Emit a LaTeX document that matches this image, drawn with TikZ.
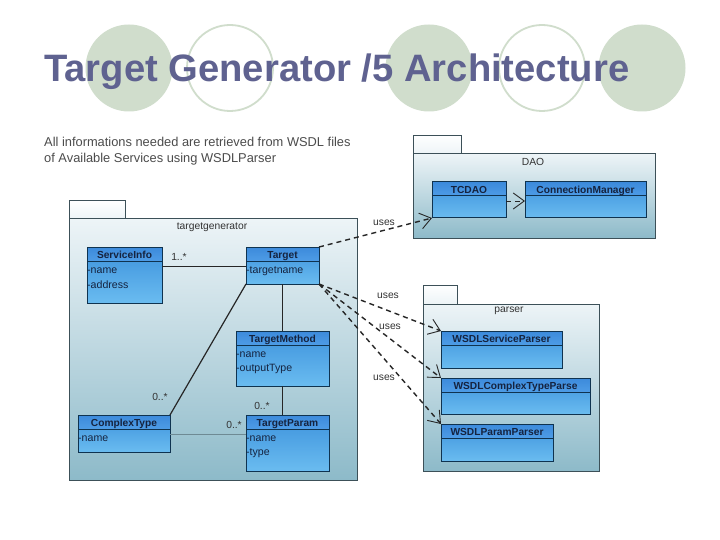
\documentclass[tikz,border=0pt]{standalone}
\usepackage{fontspec}
\setmainfont{Liberation Sans}
\usetikzlibrary{arrows.meta}
\definecolor{titlecol}{HTML}{5F6290}
\definecolor{ovalcol}{HTML}{D0DDCC}
\definecolor{inkcol}{HTML}{15233F}
\definecolor{bordercol}{HTML}{0F3350}
\definecolor{pkgborder}{HTML}{3C5058}
\definecolor{faintcol}{HTML}{6E8A94}
\tikzset{
  x=1pt,y=-1pt,
  pkgbody/.style={draw=pkgborder,line width=1pt,top color=pkgtop,bottom color=pkgbot,inner sep=0pt,outer sep=0pt,anchor=north west},
  pkgtab/.style={draw=pkgborder,line width=1pt,top color=white!95!pkgtop,bottom color=pkgtop,inner sep=0pt,outer sep=0pt,anchor=north west},
  clsbody/.style={draw=bordercol,line width=1pt,top color=clstop,bottom color=clsbot,inner sep=0pt,outer sep=0pt,anchor=north west},
  clshead/.style={draw=bordercol,line width=1pt,top color=headtop,bottom color=headbot,inner sep=0pt,outer sep=0pt,anchor=north west,text=inkcol,text height=9pt,text depth=0pt,font=\fontsize{10.2}{12}\selectfont\bfseries},
  attr/.style={anchor=west,inner sep=0pt,text=inkcol,font=\fontsize{10.6}{12}\selectfont},
  lbl/.style={inner sep=0pt,text=black!80,font=\fontsize{10.3}{12}\selectfont},
  assoc/.style={draw=black!85,line width=0.9pt},
  faint/.style={draw=faintcol,line width=0.7pt},
  dep/.style={draw=black!85,line width=1.4pt,dash pattern=on 5pt off 4pt,-{Straight Barb[length=11pt,width=16pt,line width=0.9pt]}},
}
\definecolor{pkgtop}{HTML}{EDF4F7}
\definecolor{pkgbot}{HTML}{8DBAC9}
\definecolor{clstop}{HTML}{3D92DC}
\definecolor{clsbot}{HTML}{6ABCF0}
\definecolor{headtop}{HTML}{3C8ADB}
\definecolor{headbot}{HTML}{4E9CE6}
\newcommand{\umlclass}[7]{%
  \pgfmathsetmacro{\cw}{#4-#2}\pgfmathsetmacro{\ch}{#5-#3}\pgfmathsetmacro{\hh}{#6-#3}%
  \node[clsbody,minimum width=\cw pt,minimum height=\ch pt] (#1) at (#2,#3) {};
  \node[clshead,minimum width=\cw pt,minimum height=\hh pt] (#1-h) at (#2,#3) {#7};
}
\newcommand{\umlpkg}[7]{%
  \pgfmathsetmacro{\cw}{#4-#2}\pgfmathsetmacro{\ch}{#5-#3}%
  \pgfmathsetmacro{\tw}{#6-#2}\pgfmathsetmacro{\tabh}{#3-#7}%
  \node[pkgtab,minimum width=\tw pt,minimum height=\tabh pt] (#1-tab) at (#2,#7) {};
  \node[pkgbody,minimum width=\cw pt,minimum height=\ch pt] (#1) at (#2,#3) {};
}
\begin{document}
\begin{tikzpicture}
\useasboundingbox (0,0) rectangle (720,540);
\fill[white] (0,0) rectangle (720,540);
% ovals
\fill[ovalcol] (129,68) circle [radius=43.5];
\draw[ovalcol,line width=1.8pt] (230,68) circle [radius=43];
\fill[ovalcol] (429,68) circle [radius=43.5];
\draw[ovalcol,line width=1.8pt] (542,68) circle [radius=43];
\fill[ovalcol] (642,68) circle [radius=43.5];
\node[anchor=base west,inner sep=0pt,text=titlecol,font=\fontsize{38.2}{40}\selectfont\bfseries] (title) at (44,81.5) {Target Generator /5 Architecture};
\node[anchor=north west,inner sep=0pt,align=left,text=black!70,font=\fontsize{12.85}{15.5}\selectfont] (intro) at (44,137) {All informations needed are retrieved from WSDL files\\of Available Services using WSDLParser};
% packages
\umlpkg{tg}{69}{219}{357}{480}{125}{201}
\umlpkg{dao}{413}{154}{655}{238}{461}{136}
\umlpkg{parser}{423}{304}{599}{471}{457}{285}
\node[lbl] (tgname) at (212,227) {targetgenerator};
\node[lbl] (daoname) at (533,162) {DAO};
\node[lbl] (parsername) at (509,311) {parser};
% classes
\umlclass{service}{87}{247}{162}{303}{261}{ServiceInfo}
\umlclass{target}{246}{247}{319}{284}{261}{Target}
\umlclass{method}{236}{331}{329}{386}{345}{TargetMethod}
\umlclass{complex}{78}{415}{170}{452}{429}{ComplexType}
\umlclass{param}{246}{415}{329}{471}{429}{TargetParam}
\umlclass{tcdao}{432}{182}{506}{218}{196}{TCDAO}
\umlclass{conn}{525}{182}{646}{218}{196}{ConnectionManager}
\umlclass{wsp}{441}{331}{562}{368}{345}{WSDLServiceParser}
\umlclass{wcp}{441}{378}{590}{414}{392}{WSDLComplexTypeParse}
\umlclass{wpp}{441}{424}{553}{461}{438}{WSDLParamParser}
% attributes
\node[attr] (a1) at (87,271) {-name};
\node[attr] (a2) at (87,285) {-address};
\node[attr] (a3) at (246,271) {-targetname};
\node[attr] (a4) at (236,355) {-name};
\node[attr] (a5) at (236,369) {-outputType};
\node[attr] (a6) at (78,439) {-name};
\node[attr] (a7) at (246,439) {-name};
\node[attr] (a8) at (246,453) {-type};
% associations
\coordinate (sa) at (162,266);
\coordinate (ta) at (246,266);
\coordinate (ca) at (170,434);
\coordinate (pa) at (246,434);
\draw[assoc] (sa) -- (ta);
\draw[assoc] (target.south) -- (method.north);
\draw[assoc] (method.south) -- (method.south |- param.north);
\draw[assoc,line width=1.2pt] (target.south west) -- (complex.north east);
\draw[faint] (ca) -- (pa);
\node[lbl] (m1) at (179,257) {1..*};
\node[lbl] (m2) at (160,397) {0..*};
\node[lbl] (m3) at (262,406) {0..*};
\node[lbl] (m4) at (234,425) {0..*};
% dependencies
\draw[dep] (target.north east) -- (tcdao.south west);
\coordinate (ds) at (506,201);
\coordinate (de) at (525,201);
\draw[dep,line width=0.9pt] (ds) -- (de);
\draw[dep] (target.south east) -- (wsp.north west);
\draw[dep] (target.south east) -- (wcp.north west);
\draw[dep] (target.south east) -- (wpp.north west);
\node[lbl] (u1) at (384,223) {uses};
\node[lbl] (u2) at (388,296) {uses};
\node[lbl] (u3) at (390,327) {uses};
\node[lbl] (u4) at (384,378) {uses};
\end{tikzpicture}
\end{document}
